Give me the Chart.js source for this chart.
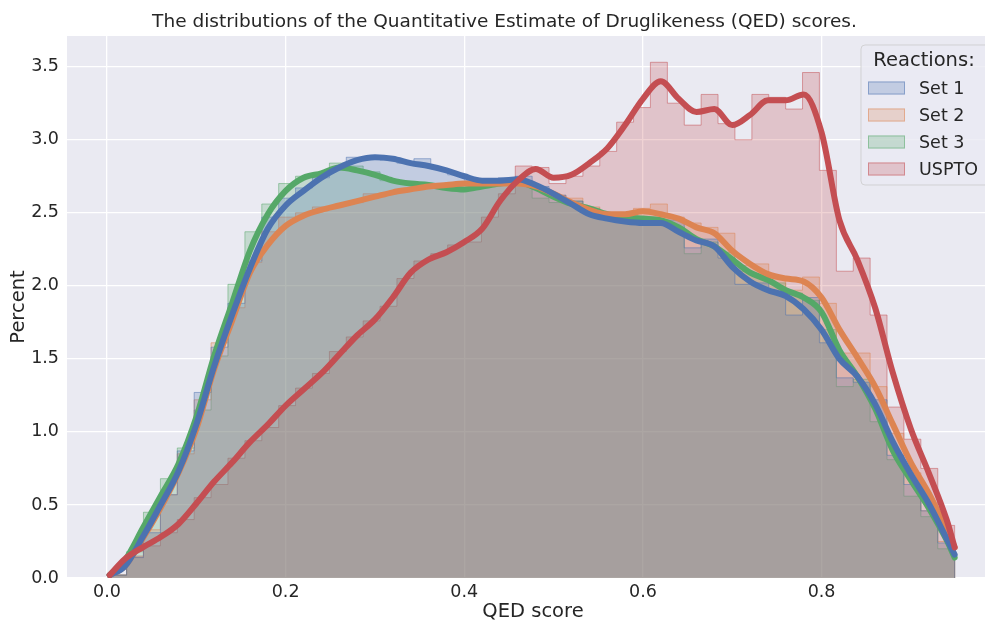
<!DOCTYPE html>
<html>
<head>
<meta charset="utf-8">
<script src="https://cdn.jsdelivr.net/npm/chart.js"></script>
<style>
  html, body { margin: 0; padding: 0; background: #fff; }
</style>
</head>
<body>
<canvas id="qedChart" width="985" height="622"></canvas>
<script>
    // series and colours (seaborn "deep")
    const seriesNames = ['Set 1', 'Set 2', 'Set 3', 'USPTO'];
    const seriesColors = ['#4C72B0', '#DD8452', '#55A868', '#C44E52'];
    const chartTitle = 'The distributions of the Quantitative Estimate of Druglikeness (QED) scores.';
    const xLabel = 'QED score';
    const yLabel = 'Percent';
    const legendTitle = 'Reactions:';

    // histogram bin edges (QED score), 50 bins
    const binEdges = [0.003, 0.0219, 0.0408, 0.0598, 0.0787, 0.0976, 0.1165, 0.1354, 0.1544, 0.1733,
        0.1922, 0.2111, 0.2300, 0.2490, 0.2679, 0.2868, 0.3057, 0.3246, 0.3436, 0.3625,
        0.3814, 0.4003, 0.4192, 0.4382, 0.4571, 0.4760, 0.4949, 0.5138, 0.5328, 0.5517,
        0.5706, 0.5895, 0.6084, 0.6274, 0.6463, 0.6652, 0.6841, 0.7030, 0.7220, 0.7409,
        0.7598, 0.7787, 0.7976, 0.8166, 0.8355, 0.8544, 0.8733, 0.8922, 0.9112, 0.9301, 0.9490];

    // percent per bin
    const histSet1 = [0.02, 0.14, 0.31, 0.57, 0.87, 1.27, 1.58, 1.88, 2.17, 2.47,
        2.60, 2.67, 2.74, 2.80, 2.88, 2.88, 2.86, 2.84, 2.87, 2.80,
        2.76, 2.72, 2.71, 2.74, 2.75, 2.68, 2.62, 2.58, 2.50, 2.47,
        2.44, 2.45, 2.43, 2.45, 2.26, 2.32, 2.19, 2.01, 2.02, 1.95,
        1.80, 1.92, 1.61, 1.37, 1.34, 1.22, 0.84, 0.64, 0.46, 0.24];
    const histSet2 = [0.02, 0.14, 0.33, 0.57, 0.85, 1.22, 1.61, 1.85, 2.16, 2.37,
        2.47, 2.50, 2.54, 2.55, 2.57, 2.63, 2.63, 2.66, 2.68, 2.70,
        2.69, 2.70, 2.71, 2.70, 2.72, 2.66, 2.62, 2.60, 2.54, 2.50,
        2.50, 2.53, 2.56, 2.47, 2.43, 2.40, 2.36, 2.14, 2.15, 2.06,
        1.97, 2.06, 1.88, 1.54, 1.54, 1.31, 0.99, 0.72, 0.46, 0.25];
    const histSet3 = [0.02, 0.18, 0.45, 0.68, 0.89, 1.15, 1.52, 2.01, 2.37, 2.56,
        2.70, 2.75, 2.76, 2.84, 2.82, 2.78, 2.72, 2.70, 2.70, 2.68,
        2.66, 2.67, 2.70, 2.71, 2.70, 2.60, 2.57, 2.58, 2.53, 2.50,
        2.48, 2.45, 2.45, 2.40, 2.22, 2.30, 2.23, 2.10, 2.08, 2.02,
        1.95, 1.90, 1.70, 1.31, 1.36, 1.07, 0.81, 0.56, 0.42, 0.20];
    const histUSPTO = [0.02, 0.15, 0.22, 0.31, 0.40, 0.55, 0.64, 0.82, 0.94, 1.03,
        1.18, 1.30, 1.40, 1.55, 1.65, 1.76, 1.86, 2.05, 2.17, 2.22,
        2.28, 2.30, 2.47, 2.63, 2.82, 2.81, 2.70, 2.75, 2.82, 2.92,
        3.12, 3.22, 3.53, 3.25, 3.10, 3.31, 3.11, 3.00, 3.31, 3.29,
        3.21, 3.46, 2.79, 2.10, 2.19, 1.80, 1.17, 0.95, 0.75, 0.36];

    // KDE curves read at these QED scores
    const kdeGrid = [0.003, 0.02, 0.04, 0.06, 0.08, 0.10, 0.12, 0.14, 0.16, 0.18,
        0.20, 0.22, 0.24, 0.26, 0.28, 0.30, 0.32, 0.34, 0.36, 0.38,
        0.40, 0.42, 0.44, 0.46, 0.48, 0.50, 0.52, 0.54, 0.56, 0.58,
        0.60, 0.62, 0.64, 0.66, 0.68, 0.70, 0.72, 0.74, 0.76, 0.78,
        0.80, 0.82, 0.84, 0.86, 0.88, 0.90, 0.92, 0.94, 0.949];
    const kdeSet1 = [0.02, 0.08, 0.28, 0.50, 0.73, 1.05, 1.45, 1.80, 2.12, 2.39,
        2.55, 2.65, 2.74, 2.81, 2.86, 2.88, 2.87, 2.84, 2.82, 2.79,
        2.75, 2.72, 2.72, 2.73, 2.69, 2.63, 2.56, 2.49, 2.46, 2.44,
        2.43, 2.43, 2.37, 2.31, 2.27, 2.13, 2.03, 1.97, 1.93, 1.84,
        1.70, 1.50, 1.38, 1.19, 0.93, 0.71, 0.51, 0.27, 0.16];
    const kdeSet2 = [0.02, 0.08, 0.27, 0.48, 0.72, 1.02, 1.43, 1.76, 2.09, 2.28,
        2.41, 2.48, 2.52, 2.55, 2.58, 2.61, 2.64, 2.66, 2.68, 2.69,
        2.70, 2.70, 2.70, 2.70, 2.68, 2.63, 2.57, 2.52, 2.49, 2.49,
        2.51, 2.49, 2.46, 2.40, 2.36, 2.24, 2.15, 2.08, 2.05, 2.03,
        1.92, 1.70, 1.51, 1.31, 1.05, 0.79, 0.58, 0.33, 0.21];
    const kdeSet3 = [0.02, 0.12, 0.34, 0.56, 0.78, 1.10, 1.52, 1.88, 2.24, 2.49,
        2.65, 2.74, 2.77, 2.81, 2.79, 2.76, 2.72, 2.70, 2.69, 2.67,
        2.66, 2.68, 2.70, 2.71, 2.67, 2.61, 2.56, 2.53, 2.49, 2.47,
        2.46, 2.45, 2.40, 2.32, 2.27, 2.18, 2.09, 2.04, 1.97, 1.92,
        1.82, 1.56, 1.38, 1.16, 0.87, 0.67, 0.48, 0.26, 0.14];
    const kdeUSPTO = [0.02, 0.13, 0.21, 0.28, 0.37, 0.51, 0.66, 0.79, 0.93, 1.05,
        1.18, 1.29, 1.40, 1.53, 1.66, 1.77, 1.92, 2.09, 2.18, 2.23,
        2.30, 2.39, 2.58, 2.72, 2.80, 2.74, 2.76, 2.84, 2.94, 3.10,
        3.28, 3.40, 3.28, 3.19, 3.21, 3.10, 3.17, 3.27, 3.27, 3.31,
        3.05, 2.45, 2.18, 1.85, 1.40, 1.02, 0.72, 0.40, 0.21];

    const histAll = [histSet1, histSet2, histSet3, histUSPTO];
    const kdeAll = [kdeSet1, kdeSet2, kdeSet3, kdeUSPTO];

    const textColor = '#262626';
    const fontFamily = "'DejaVu Sans', sans-serif";

    function rgba(hex, a) {
        let n = parseInt(hex.slice(1), 16);
        return `rgba(${(n >> 16) & 255}, ${(n >> 8) & 255}, ${n & 255}, ${a})`;
    }

    // step outline: start at 0, one point per bin edge, back to 0
    function stepPoints(values) {
        let pts = [{ x: binEdges[0], y: 0 }];
        values.forEach((v, i) => pts.push({ x: binEdges[i], y: v }));
        pts.push({ x: binEdges[binEdges.length - 1], y: 0 });
        return pts;
    }

    let datasets = [];
    // KDE lines (red drawn on top, then blue, orange, green)
    const kdeOrder = [1, 2, 3, 0];
    kdeAll.forEach((vals, i) => {
        datasets.push({
            label: seriesNames[i] + ' KDE',
            data: kdeGrid.map((x, j) => ({ x: x, y: vals[j] })),
            borderColor: seriesColors[i],
            borderWidth: 6,
            borderCapStyle: 'round',
            borderJoinStyle: 'round',
            pointRadius: 0,
            cubicInterpolationMode: 'monotone',
            fill: false,
            order: kdeOrder[i]
        });
    });
    histAll.forEach((vals, i) => {
        datasets.push({
            label: seriesNames[i],
            data: stepPoints(vals),
            stepped: 'before',
            borderColor: rgba(seriesColors[i], 0.5),
            borderWidth: 1,
            backgroundColor: rgba(seriesColors[i], 0.25),
            pointRadius: 0,
            fill: 'origin',
            order: 4 + i
        });
    });

    const plotBackground = {
        id: 'plotBackground',
        beforeDraw(chart) {
            let { ctx, chartArea: a } = chart;
            ctx.save();
            ctx.fillStyle = '#EAEAF2';
            ctx.fillRect(a.left, a.top, a.right - a.left, a.bottom - a.top);
            ctx.restore();
        }
    };

    // title, x label and matplotlib-like legend box
    const figureText = {
        id: 'figureText',
        afterDraw(chart) {
            let ctx = chart.ctx;
            ctx.save();
            ctx.fillStyle = textColor;
            ctx.textBaseline = 'middle';
            ctx.textAlign = 'center';
            ctx.font = `18.5px ${fontFamily}`;
            ctx.fillText(chartTitle, 504.5, 22);
            ctx.font = `19.5px ${fontFamily}`;
            ctx.fillText(xLabel, 533, 612);

            let left = 861, top = 45, width = 130, height = 140;
            ctx.beginPath();
            ctx.roundRect(left, top, width, height, 4);
            ctx.fillStyle = 'rgba(234, 234, 242, 0.8)';
            ctx.fill();
            ctx.strokeStyle = 'rgba(204, 204, 204, 0.8)';
            ctx.lineWidth = 1;
            ctx.stroke();

            ctx.fillStyle = textColor;
            ctx.font = `19.5px ${fontFamily}`;
            ctx.fillText(legendTitle, 924, 61);

            ctx.textAlign = 'left';
            ctx.font = `17.5px ${fontFamily}`;
            seriesNames.forEach((name, i) => {
                let cy = 88 + i * 27;
                ctx.fillStyle = rgba(seriesColors[i], 0.25);
                ctx.fillRect(868, cy - 6.5, 37, 13);
                ctx.strokeStyle = rgba(seriesColors[i], 0.5);
                ctx.strokeRect(868.5, cy - 6, 36, 12);
                ctx.fillStyle = textColor;
                ctx.fillText(name, 919, cy + 1);
            });
            ctx.restore();
        }
    };

    Chart.defaults.font.family = fontFamily;
    Chart.defaults.color = textColor;

    let ctx = document.getElementById('qedChart').getContext('2d');
    let qedChart = new Chart(ctx, {
        type: 'line',
        data: { datasets: datasets },
        options: {
            responsive: false,
            animation: false,
            devicePixelRatio: 1,
            layout: { padding: { left: 0, right: 0, top: 36, bottom: 0 } },
            plugins: {
                legend: { display: false },
                tooltip: { enabled: false },
                title: { display: false }
            },
            scales: {
                x: {
                    type: 'linear',
                    min: -0.0448,
                    max: 0.983,
                    border: { display: false },
                    grid: { color: '#ffffff', lineWidth: 1.3, drawTicks: false },
                    ticks: {
                        stepSize: 0.2,
                        includeBounds: false,
                        padding: 4,
                        color: textColor,
                        font: { size: 17.5, lineHeight: 1.2 },
                        maxRotation: 0,
                        callback: v => v.toFixed(1)
                    },
                    afterFit: s => { s.height = 44; }
                },
                y: {
                    min: 0,
                    max: 3.71,
                    border: { display: false },
                    grid: { color: '#ffffff', lineWidth: 1.3, drawTicks: false },
                    ticks: {
                        stepSize: 0.5,
                        includeBounds: false,
                        padding: 8,
                        color: textColor,
                        font: { size: 17.5 },
                        callback: v => v.toFixed(1)
                    },
                    title: {
                        display: true,
                        text: yLabel,
                        color: textColor,
                        font: { size: 19.5, lineHeight: 1.2 },
                        padding: { top: 7, bottom: 0 }
                    },
                    afterFit: s => { s.width = 67; }
                }
            }
        },
        plugins: [plotBackground, figureText]
    });
</script>
</body>
</html>
